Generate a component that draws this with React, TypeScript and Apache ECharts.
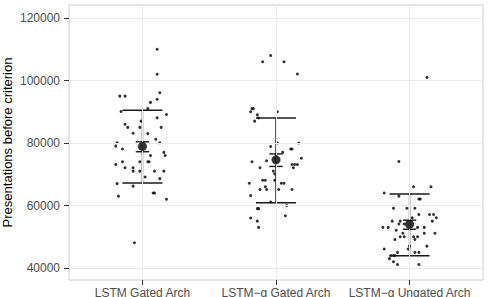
import React, { useEffect, useRef } from "react";
import * as echarts from "echarts";

const categories = ["LSTM Gated Arch", "LSTM\u2212g Gated Arch", "LSTM\u2212g Ungated Arch"];
const yTicks = [40000, 60000, 80000, 100000, 120000];

// [jitter offset from category centre, presentations]
const group1Points: [number, number][] = [
  [0.11, 110000], [0.11, 102000], [-0.17, 95000], [-0.13, 95000], [0.13, 96100],
  [0.11, 94000], [0.06, 93000], [0.04, 91000], [-0.16, 90100], [0.18, 89100],
  [0.11, 88100], [-0.01, 87000], [-0.13, 86000], [-0.11, 85000], [-0.02, 85000],
  [0.14, 85000], [-0.07, 83100], [0.04, 83000], [0.10, 81200], [0.13, 80100],
  [-0.19, 80100], [-0.2, 79000], [-0.15, 78100], [0.16, 77000], [0.17, 76000],
  [0.06, 76000], [-0.2, 73100], [-0.15, 74000], [-0.02, 74000], [0.04, 74000],
  [0.05, 74000], [-0.13, 72100], [-0.07, 72100], [-0.07, 71000], [-0.02, 71000],
  [0.09, 71000], [0.16, 71000], [0.02, 69100], [0.13, 68600], [-0.19, 67000],
  [-0.07, 66200], [0.08, 64000], [0.09, 64000], [-0.18, 63000], [0.18, 62000],
  [-0.06, 48100],
];
const group2Points: [number, number][] = [
  [-0.04, 108000], [-0.1, 106000], [0.06, 106000], [0.16, 102100], [-0.18, 91000],
  [-0.17, 91000], [-0.19, 90000], [0.01, 90000], [-0.14, 89000], [-0.13, 88000],
  [-0.16, 87000], [0.17, 80000], [0.01, 80000], [-0.04, 78900], [0.11, 78100],
  [0.12, 78100], [0.05, 77000], [0.19, 75100], [-0.18, 74000], [-0.07, 74300],
  [0.12, 73100], [0.14, 73100], [0.16, 73100], [0.13, 72100], [-0.12, 72100],
  [-0.02, 71000], [-0.01, 70100], [-0.1, 68100], [-0.08, 68100], [-0.01, 68100],
  [-0.2, 67100], [0.04, 67100], [0.06, 67100], [-0.08, 66000], [-0.12, 65100],
  [-0.07, 65100], [0.02, 65100], [0.12, 65100], [-0.19, 63200], [-0.04, 61100],
  [0.08, 60000], [-0.14, 59000], [-0.13, 59000], [0.07, 56700], [-0.19, 56000],
  [-0.14, 55000], [-0.13, 53000],
];
const group3Points: [number, number][] = [
  [0.13, 101000], [-0.08, 74100], [0.03, 66000], [0.16, 66000], [-0.19, 64000],
  [-0.08, 63000], [0.07, 62100], [0.08, 62100], [-0.12, 59100], [-0.02, 59100],
  [0.04, 59100], [0.02, 56100], [0.07, 57100], [0.15, 57100], [0.18, 57100],
  [0.2, 56100], [0.17, 55000], [-0.13, 55000], [-0.07, 55000], [-0.08, 54100],
  [-0.04, 54100], [-0.2, 53000], [-0.16, 53000], [0.06, 53000], [0.11, 53000],
  [-0.1, 52100], [-0.05, 51100], [0.11, 51100], [0.19, 51100], [-0.07, 50000],
  [-0.04, 50000], [0.03, 50000], [0.06, 50000], [-0.11, 49100], [0.04, 49100],
  [0.0, 47000], [0.13, 47000], [-0.19, 46100], [-0.01, 46100], [-0.09, 45000],
  [0.04, 45000], [0.07, 45000], [-0.12, 44000], [-0.11, 44000], [-0.14, 44000],
  [-0.15, 43000], [-0.12, 42000], [-0.09, 41100], [0.07, 41100],
];

const means = [78900, 74600, 54000];
const sdLow = [67200, 60900, 43900];
const sdHigh = [90500, 88000, 63700];
const seLow = [77200, 72500, 52400];
const seHigh = [80400, 76500, 55300];

const FONT = '"Liberation Sans", Arial, Helvetica, sans-serif';

export default function App() {
  const ref = useRef<HTMLDivElement>(null);
  useEffect(() => {
    if (!ref.current) return;
    const chart = echarts.init(ref.current, null, { renderer: "svg" });
    const catPos = categories.map((_, i) => i + 1);
    const groups = [group1Points, group2Points, group3Points];
    const pointData: number[][] = [];
    groups.forEach((g, gi) => g.forEach(([dx, v]) => pointData.push([catPos[gi] + dx, v])));
    const errData = catPos.map((c, i) => [c, means[i], sdLow[i], sdHigh[i], seLow[i], seHigh[i]]);

    chart.setOption({
      animation: false,
      backgroundColor: "#ffffff",
      grid: {
        left: 69, right: 6, top: 5, bottom: 17,
        containLabel: false, outerBoundsMode: "none",
        show: true, borderColor: "#cccccc", borderWidth: 1, backgroundColor: "#ffffff",
      },
      xAxis: {
        type: "value", min: 0.45, max: 3.55,
        axisLine: { show: false },
        splitLine: { show: false },
        axisTick: { show: true, length: 5, customValues: catPos, lineStyle: { color: "#333333", width: 1 } },
        axisLabel: {
          customValues: catPos,
          formatter: (v: number) => categories[Math.round(v) - 1] ?? "",
          color: "#4d4d4d", fontSize: 12, fontFamily: FONT, margin: 7,
        },
      },
      yAxis: {
        type: "value", min: 36160, max: 124160,
        name: "Presentations before criterion",
        nameLocation: "middle", nameGap: 55, nameMoveOverlap: false,
        nameTextStyle: { color: "#000000", fontSize: 13, fontFamily: FONT },
        axisLine: { show: false },
        splitLine: { show: false },
        axisTick: { show: true, length: 5, customValues: yTicks, lineStyle: { color: "#333333", width: 1 } },
        axisLabel: {
          customValues: yTicks,
          formatter: (v: number) => String(v),
          color: "#4d4d4d", fontSize: 12, fontFamily: FONT, margin: 9,
        },
      },
      series: [
        {
          type: "scatter", data: [], z: 1, silent: true,
          markLine: {
            silent: true, symbol: "none", label: { show: false }, animation: false,
            lineStyle: { color: "#ebebeb", width: 1, type: "solid" },
            data: [
              ...yTicks.map((v) => ({ yAxis: v })),
              ...catPos.map((v) => ({ xAxis: v })),
            ],
          },
        },
        {
          type: "scatter", data: pointData, z: 3, symbolSize: 3,
          itemStyle: { color: "#000000" },
        },
        {
          type: "custom", z: 4, data: errData,
          encode: { x: 0, y: [1, 2, 3, 4, 5] },
          renderItem: (_params: any, api: any) => {
            const x = api.value(0);
            const sl = api.value(2), sh = api.value(3), el = api.value(4), eh = api.value(5);
            const p = (xx: number, yy: number) => api.coord([xx, yy]);
            const style = { stroke: "#1a1a1a", lineWidth: 1.4 };
            const seg = (a: number[], b: number[]) => ({
              type: "line", shape: { x1: a[0], y1: a[1], x2: b[0], y2: b[1] }, style,
            });
            return {
              type: "group",
              children: [
                seg(p(x, sl), p(x, sh)),
                seg(p(x - 0.15, sl), p(x + 0.15, sl)),
                seg(p(x - 0.15, sh), p(x + 0.15, sh)),
                seg(p(x - 0.05, el), p(x + 0.05, el)),
                seg(p(x - 0.05, eh), p(x + 0.05, eh)),
              ],
            };
          },
        },
        {
          type: "scatter", z: 5, symbolSize: 9,
          data: catPos.map((c, i) => [c, means[i]]),
          itemStyle: { color: "#000000" },
        },
      ],
    });
    return () => chart.dispose();
  }, []);
  return (
    <div
      ref={ref}
      style={{ position: "absolute", left: 0, top: 0, width: 489, height: 297 }}
    />
  );
}
